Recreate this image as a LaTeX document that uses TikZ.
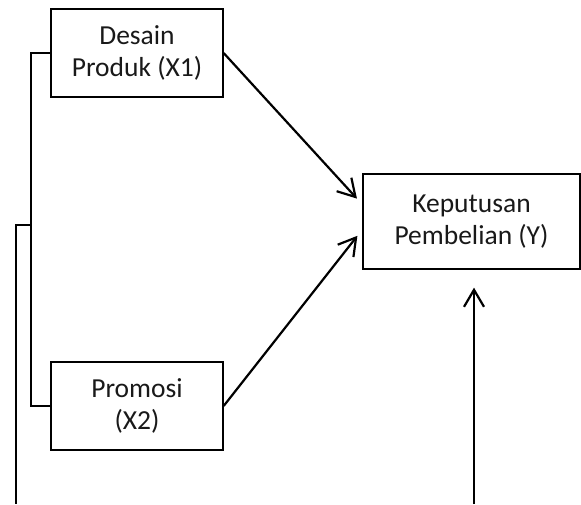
\documentclass[tikz,border=0pt]{standalone}
\usepackage{fontspec}
\setmainfont{Carlito}
\usetikzlibrary{arrows.meta,calc}
\begin{document}
\begin{tikzpicture}[x=1pt, y=-1pt, box/.style={draw=black, line width=1.3pt, align=center, inner sep=0pt, font=\fontsize{27.5}{32}\selectfont, text=black!90}, link/.style={line width=2.2pt, black}, arr/.style={link, -{Straight Barb[length=17pt, width=20pt, line width=2.2pt]}}]
\useasboundingbox (0,0) rectangle (581,504);
\node[box, minimum width=172pt, minimum height=88pt] (desain) at (137,53) {Desain\\Produk (X1)};
\node[box, minimum width=172pt, minimum height=88pt] (promosi) at (137,406) {Promosi\\(X2)};
\node[box, minimum width=217pt, minimum height=95pt] (keputusan) at (471.5,221.5) {Keputusan\\Pembelian (Y)};
\coordinate (kait) at (31,225);
\coordinate (bawahkiri) at (16,504);
\coordinate (bawahkanan) at (474,504);
\draw[link] (desain.west) -| (kait) |- (promosi.west);
\draw[link] (kait) -| (bawahkiri);
\draw[arr, shorten >=8pt] (desain.east) -- ([yshift=17pt]keputusan.west);
\draw[arr, shorten >=8pt] (promosi.east) -- ([yshift=-8pt]keputusan.west);
\draw[arr, shorten >=18pt] (bawahkanan) -- ([xshift=2.5pt]keputusan.south);
\end{tikzpicture}
\end{document}
